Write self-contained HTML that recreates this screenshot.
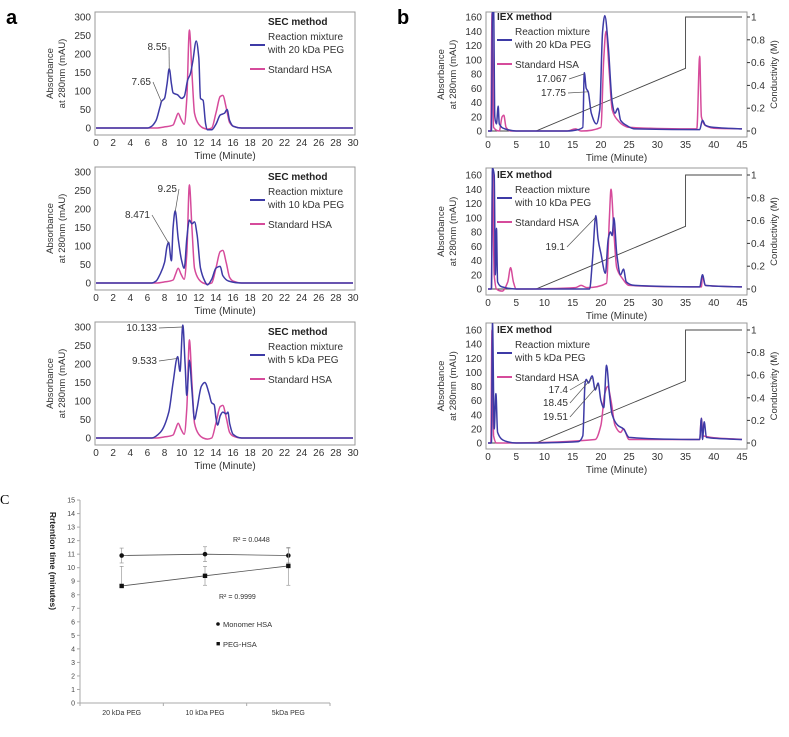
<!DOCTYPE html>
<html><head><meta charset="utf-8"><style>
body{margin:0;background:#fff;}
svg{display:block;font-family:"Liberation Sans",sans-serif;}
</style></head><body>
<svg id="fig" width="789" height="737" viewBox="0 0 789 737">
<text x="6" y="24" font-size="20" font-weight="bold">a</text>
<text x="397" y="24" font-size="20" font-weight="bold">b</text>
<text x="0" y="504" font-size="14" font-family="Liberation Serif, serif">C</text>
</svg>
<script>
// ---------- Data: SEC (panel a) ----------
const secHsaT = [0,7,8,9,9.3,9.6,9.9,10.3,10.6,10.9,11.2,11.5,12,12.5,13,13.5,14,14.5,14.8,15.2,15.6,16,17,30];
const secHsaV = [0,0,3,8,25,40,25,10,80,265,150,40,10,0,-3,0,40,85,88,55,15,5,0,0];
const sec20T = [0,6,6.5,7,7.5,7.65,8,8.3,8.55,8.8,9,9.5,10,10.3,10.7,11,11.3,11.7,12,12.2,12.5,12.8,13,13.5,14,14.5,15,15.3,15.6,16,17,30];
const sec20V = [0,0,5,20,60,72,80,120,160,120,95,90,80,85,130,145,180,235,190,80,75,10,-5,-5,10,35,40,50,20,5,0,0];
const sec10T = [0,6.5,7,7.5,8,8.3,8.47,8.8,9,9.25,9.6,10,10.3,10.6,10.9,11.2,11.5,11.8,12.2,12.7,13,13.5,14,14.5,14.8,15.5,17,30];
const sec10V = [0,0,5,25,55,100,110,60,150,195,120,60,40,120,170,160,165,130,40,5,-5,10,40,45,20,5,0,0];
const sec5T = [0,6.5,7.5,8.5,9,9.533,9.8,10.133,10.4,10.6,10.9,11.2,11.5,11.8,12.3,12.7,13.2,13.5,13.8,14,14.2,14.5,14.8,15.2,15.4,15.6,16,17,30];
const sec5V = [0,0,15,70,150,220,180,305,200,115,210,130,50,80,140,150,120,95,90,55,35,60,70,65,70,40,10,0,0];
const secYTicks = [0,50,100,150,200,250,300];
const secXTicks = [0,2,4,6,8,10,12,14,16,18,20,22,24,26,28,30];
// ---------- Data: IEX (panel b) ----------
const iex20T = [0,0.6,0.8,1.0,1.2,1.5,1.8,2,3,5,14,16,16.8,17.067,17.4,17.75,18.3,19.2,19.8,20.3,20.7,21.3,22,22.5,23,23.5,24.5,26,37.5,38,38.5,40,45];
const iex20V = [0,0,170,170,20,10,35,10,3,0,0,2,5,82,60,55,25,10,30,140,162,120,40,25,32,15,8,3,2,15,8,5,3];
const iexHsa1T = [0,0.5,0.7,1,2,2.5,2.8,3.2,4,14,15.5,16.5,20,20.5,20.9,21.5,22,23,24,25,37,37.5,37.8,38.5,40,45];
const iexHsa1V = [0,0,165,5,0,20,22,5,0,0,3,0,5,100,140,80,30,15,8,5,3,105,20,8,4,3];
const iex10T = [0,0.6,0.8,1.1,1.3,1.5,1.7,2.5,5,18,18.5,19.1,19.5,20,20.8,21.3,21.7,22,22.3,22.8,23.5,24,24.5,26,37.5,38,38.5,45];
const iex10V = [0,0,170,160,20,85,10,3,0,0,40,103,70,50,22,70,80,75,100,50,20,28,10,5,3,20,5,3];
const iexHsa2T = [0,0.6,0.8,1.1,1.5,2.5,3.5,4,4.5,5,15.5,16.5,17.5,21,21.5,21.8,22.3,22.8,23.8,25,37.8,38,38.5,45];
const iexHsa2V = [0,0,165,20,0,-3,10,30,10,0,2,5,2,8,100,140,80,30,15,5,3,18,5,3];
const iex5T = [0,0.6,0.8,1.1,1.4,1.7,3,5,16,16.8,17.2,17.4,17.8,18.45,19,19.51,20,20.5,21,21.5,22,23,24,25,37.5,37.8,38,38.3,38.7,45];
const iex5V = [0,0,170,20,70,15,3,0,2,10,85,90,85,95,75,85,60,50,110,70,40,25,20,8,5,35,5,30,8,5];
const iexHsa3T = [0,0.5,0.7,1,1.5,19,20,20.7,21.2,21.8,22.5,23.5,24,25,37.5,37.8,38.1,45];
const iexHsa3V = [0,0,160,10,0,5,25,70,80,60,25,15,20,5,5,35,10,5];
const condT = [0,8.5,35,35,45];
const condV = [0,0,0.55,1,1];
const iexYTicks = [0,20,40,60,80,100,120,140,160];
const iexRTicks = [0,0.2,0.4,0.6,0.8,1];
const iexXTicks = [0,5,10,15,20,25,30,35,40,45];
// ---------- Data: retention (panel c) ----------
const cCats = ["20 kDa PEG","10 kDa PEG","5kDa PEG"];
const monoVals = [10.9,11.0,10.9];
const monoLo = [10.35,10.45,10.35];
const monoHi = [11.45,11.55,11.45];
const pegVals = [8.65,9.4,10.13];
const pegLo = [8.65,8.7,8.7];
const pegHi = [10.1,10.1,11.5];
const cYTicks = [0,1,2,3,4,5,6,7,8,9,10,11,12,13,14,15];

const NS="http://www.w3.org/2000/svg";
const svg=document.getElementById('fig');
const BLUE="#3d3aa6", PINK="#d64b9b";
function el(tag,attrs,parent){const e=document.createElementNS(NS,tag);for(const k in attrs)e.setAttribute(k,attrs[k]);(parent||svg).appendChild(e);return e;}
function txt(s,attrs,parent){const e=el('text',attrs,parent);e.textContent=s;return e;}
// monotone cubic (Fritsch-Carlson) – no overshoot
function smooth(pts){
  const n=pts.length;
  const dx=[],sl=[];
  for(let i=0;i<n-1;i++){dx[i]=pts[i+1][0]-pts[i][0];sl[i]=dx[i]?(pts[i+1][1]-pts[i][1])/dx[i]:0;}
  const m=[];
  m[0]=sl[0];m[n-1]=sl[n-2];
  for(let i=1;i<n-1;i++){
    if(sl[i-1]*sl[i]<=0)m[i]=0;
    else{const w1=2*dx[i]+dx[i-1],w2=dx[i]+2*dx[i-1];m[i]=(w1+w2)/(w1/sl[i-1]+w2/sl[i]);}
  }
  let d='M'+pts[0][0].toFixed(1)+','+pts[0][1].toFixed(1);
  for(let i=0;i<n-1;i++){
    const h=dx[i]/3;
    d+=' C'+(pts[i][0]+h).toFixed(1)+','+(pts[i][1]+m[i]*h).toFixed(1)+' '+(pts[i+1][0]-h).toFixed(1)+','+(pts[i+1][1]-m[i+1]*h).toFixed(1)+' '+pts[i+1][0].toFixed(1)+','+pts[i+1][1].toFixed(1);
  }
  return d;
}

let clipN=0;
function chrom(c){
  const g=el('g',{});
  
  
  const sx=t=>c.x0+(t-c.tmin)/(c.tmax-c.tmin)*(c.x1-c.x0);
  const sy=v=>c.y0+(v/c.vmax)*(c.yTop-c.y0);
  const b=el('rect',{x:c.bx0,y:c.by0,width:c.bx1-c.bx0,height:c.by1-c.by0,fill:'none',stroke:'#999','stroke-width':1},g);
  
  const cid='clip'+(clipN++);
  const cp=el('clipPath',{id:cid},g);el('rect',{x:c.bx0,y:c.by0,width:c.bx1-c.bx0,height:c.by1-c.by0},cp);
  c.yTicks.forEach(v=>{const t=txt(String(v),{x:c.bx0-4,y:sy(v)+3.5,'font-size':10,'text-anchor':'end',fill:'#333'},g);
    });
  c.xTicks.forEach(v=>{const t=txt(String(v),{x:sx(v),y:c.by1+11,'font-size':10,'text-anchor':'middle',fill:'#333'},g);
    });
  const xt=txt('Time (Minute)',{x:(c.bx0+c.bx1)/2,y:c.by1+24,'font-size':10,'text-anchor':'middle',fill:'#333'},g);
  
  const yt=el('text',{transform:`translate(${c.bx0-36},${(c.by0+c.by1)/2}) rotate(-90)`,'font-size':9.5,'text-anchor':'middle',fill:'#333'},g);
  
  const s1=el('tspan',{x:0,y:-6},yt);s1.textContent='Absorbance';
  const s2=el('tspan',{x:0,y:6},yt);s2.textContent='at 280nm (mAU)';
  if(c.cond){
    c.rTicks.forEach(v=>{const yy=sy(v*c.vmax);el('line',{x1:c.bx1,x2:c.bx1+3,y1:yy,y2:yy,stroke:'#333'},g);
      const t=txt(String(v),{x:c.bx1+4,y:yy+3.5,'font-size':10,fill:'#333'},g);
      });
    const rt=txt('Conductivity (M)',{transform:`translate(${c.bx1+30},${(c.by0+c.by1)/2}) rotate(-90)`,'font-size':9.5,'text-anchor':'middle',fill:'#333'},g);
    
    const p=el('polyline',{points:condT.map((t,i)=>sx(t)+','+sy(condV[i]*c.vmax)).join(' '),fill:'none',stroke:'#444','stroke-width':0.9},g);
    
  }
  c.series.forEach(s=>{
    const pts=s.t.map((t,i)=>[sx(t),sy(s.v[i])]);
    const p=el('path',{d:smooth(pts),fill:'none',stroke:s.col,'stroke-width':1.5,'stroke-linejoin':'round','clip-path':`url(#${cid})`},g);
    
  });
  const L=c.leg;
  const lg=el('g',{},g);
  txt(c.method,{x:L.x+(c.cond?0:18),y:L.y,'font-size':10,'font-weight':'bold',fill:'#222'},lg);
  el('line',{x1:L.lx,x2:L.lx+15,y1:L.y+20,y2:L.y+20,stroke:BLUE,'stroke-width':2},lg);
  txt('Reaction mixture',{x:L.lx+18,y:L.y+15,'font-size':10,fill:'#333'},lg);
  txt(c.pegLabel,{x:L.lx+18,y:L.y+28,'font-size':10,fill:'#333'},lg);
  el('line',{x1:L.lx,x2:L.lx+15,y1:L.y+44,y2:L.y+44,stroke:PINK,'stroke-width':2},lg);
  txt('Standard HSA',{x:L.lx+18,y:L.y+48,'font-size':10,fill:'#333'},lg);
  c.ann.forEach(a=>{
    const px=sx(a.t),py=sy(a.v);
    const t=txt(a.label,{x:a.tx,y:a.ty,'font-size':10,'text-anchor':'end',fill:'#333'},g);
    
    el('line',{x1:a.tx+2,y1:a.ty-3,x2:px,y2:py,stroke:'#555','stroke-width':0.7},g);
  });
}
function sec(off,name,blueT,blueV,peg,ann){
  chrom({name,tmin:0,tmax:30,x0:96,x1:353,y0:128+off,yTop:17+off,vmax:300,bx0:95,bx1:355,by0:12+off,by1:135+off,
    yTicks:secYTicks,xTicks:secXTicks,method:'SEC method',pegLabel:peg,leg:{x:250,y:25+off,lx:250},
    series:[{t:secHsaT,v:secHsaV,col:PINK,name:'standard-hsa-line'},{t:blueT,v:blueV,col:BLUE,name:'reaction-mixture-line'}],ann});
}
sec(0,'sec-20kda-chart',sec20T,sec20V,'with 20 kDa PEG',[{label:'8.55',t:8.55,v:158,tx:167,ty:50},{label:'7.65',t:7.65,v:70,tx:151,ty:85}]);
sec(155,'sec-10kda-chart',sec10T,sec10V,'with 10 kDa PEG',[{label:'9.25',t:9.25,v:193,tx:177,ty:192},{label:'8.471',t:8.47,v:108,tx:150,ty:218}]);
sec(310,'sec-5kda-chart',sec5T,sec5V,'with  5 kDa PEG',[{label:'10.133',t:10.1,v:300,tx:157,ty:331},{label:'9.533',t:9.5,v:215,tx:157,ty:364}]);
function iex(o,name,bT,bV,hT,hV,peg,ann){
  chrom({name,tmin:0,tmax:45,x0:488,x1:742,y0:o.y0,yTop:o.yTop,vmax:160,bx0:486,bx1:747,by0:o.by0,by1:o.by1,
    yTicks:iexYTicks,xTicks:iexXTicks,rTicks:iexRTicks,cond:true,method:'IEX method',pegLabel:peg,leg:{x:497,y:o.yTop+3,lx:497},
    series:[{t:hT,v:hV,col:PINK,name:'standard-hsa-line'},{t:bT,v:bV,col:BLUE,name:'reaction-mixture-line'}],ann});
}
iex({y0:131,yTop:17,by0:12,by1:137},'iex-20kda-chart',iex20T,iex20V,iexHsa1T,iexHsa1V,'with 20 kDa PEG',
  [{label:'17.067',t:17.0,v:80,tx:567,ty:82},{label:'17.75',t:17.7,v:55,tx:566,ty:96}]);
iex({y0:289,yTop:175,by0:168,by1:295},'iex-10kda-chart',iex10T,iex10V,iexHsa2T,iexHsa2V,'with 10 kDa PEG',
  [{label:'19.1',t:19.0,v:100,tx:565,ty:250}]);
iex({y0:443,yTop:330,by0:323,by1:449},'iex-5kda-chart',iex5T,iex5V,iexHsa3T,iexHsa3V,'with  5 kDa PEG',
  [{label:'17.4',t:17.3,v:88,tx:568,ty:393},{label:'18.45',t:18.4,v:92,tx:568,ty:406},{label:'19.51',t:19.5,v:82,tx:568,ty:420}]);

(function(){
  const g=el('g',{});
  const X0=80,X1=330,Y0=703,pu=13.53;
  const sy=v=>Y0-v*pu;
  const sx=i=>X0+(i+0.5)*(X1-X0)/cCats.length;
  el('line',{x1:X0,x2:X0,y1:sy(15),y2:Y0,stroke:'#aaa'},g);
  el('line',{x1:X0,x2:X1,y1:Y0,y2:Y0,stroke:'#aaa'},g);
  cYTicks.forEach(v=>{el('line',{x1:X0-3,x2:X0,y1:sy(v),y2:sy(v),stroke:'#aaa'},g);
    const t=txt(String(v),{x:X0-5,y:sy(v)+2.5,'font-size':7,'text-anchor':'end',fill:'#444'},g);
    });
  for(let i=0;i<=cCats.length;i++){const xx=X0+i*(X1-X0)/cCats.length;el('line',{x1:xx,x2:xx,y1:Y0,y2:Y0+3,stroke:'#aaa'},g);}
  cCats.forEach((c,i)=>{const t=txt(c,{x:sx(i),y:Y0+12,'font-size':7,'text-anchor':'middle',fill:'#333'},g);
    });
  const yt=txt('Rrtention time (minutes)',{transform:`translate(50,${sy(10.5)}) rotate(90)`,'font-size':8.5,'font-weight':'bold','text-anchor':'middle',fill:'#222'},g);
  
  function series(vals,lo,hi,nm,sq){
    const p=el('polyline',{points:vals.map((v,i)=>sx(i)+','+sy(v)).join(' '),fill:'none',stroke:'#555','stroke-width':0.8},g);
    
    vals.forEach((v,i)=>{
      el('line',{x1:sx(i),x2:sx(i),y1:sy(lo[i]),y2:sy(hi[i]),stroke:'#999','stroke-width':0.7},g);
      el('line',{x1:sx(i)-2,x2:sx(i)+2,y1:sy(lo[i]),y2:sy(lo[i]),stroke:'#999','stroke-width':0.7},g);
      el('line',{x1:sx(i)-2,x2:sx(i)+2,y1:sy(hi[i]),y2:sy(hi[i]),stroke:'#999','stroke-width':0.7},g);
      const m=sq?el('rect',{x:sx(i)-2.2,y:sy(v)-2.2,width:4.4,height:4.4,fill:'#111'},g):el('circle',{cx:sx(i),cy:sy(v),r:2.3,fill:'#111'},g);
      
    });
  }
  series(monoVals,monoLo,monoHi,'monomer-hsa',false);
  series(pegVals,pegLo,pegHi,'peg-hsa',true);
  const r1=txt('R² = 0.0448',{x:233,y:542,'font-size':7,fill:'#333'},g);
  const r2=txt('R² = 0.9999',{x:219,y:599,'font-size':7,fill:'#333'},g);
  const lg=el('g',{},g);
  el('circle',{cx:218,cy:624,r:1.8,fill:'#111'},lg);
  txt('Monomer HSA',{x:223,y:627,'font-size':7.5,fill:'#333'},lg);
  el('rect',{x:216.5,y:642,width:3.4,height:3.4,fill:'#111'},lg);
  txt('PEG-HSA',{x:223,y:647,'font-size':7.5,fill:'#333'},lg);
})();
</script>
</body></html>
